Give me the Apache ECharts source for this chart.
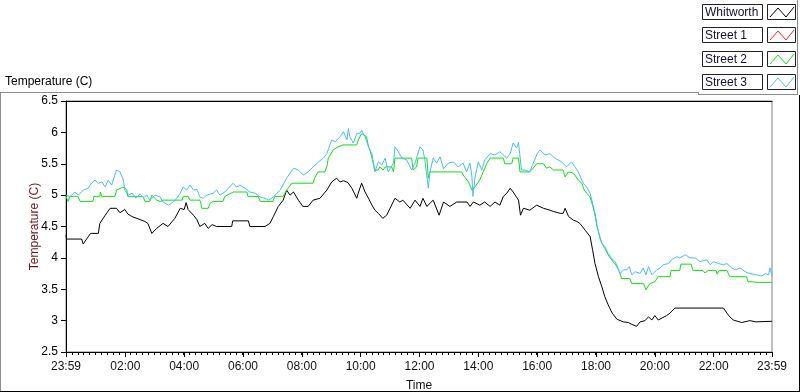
<!DOCTYPE html>
<html>
<head>
<meta charset="utf-8">
<script src="https://cdn.jsdelivr.net/npm/echarts@6/dist/echarts.min.js"></script>
<style>
html,body{margin:0;padding:0;background:#fff;}
#chart{width:800px;height:392px;}
</style>
</head>
<body>
<div id="chart"></div>
<script>
// Time is expressed in minutes elapsed since 23:59 (start of the trace).
const seriesNames = ['Whitworth', 'Street 1', 'Street 2', 'Street 3'];
const seriesColors = ['#000000', '#ff2020', '#10e010', '#48bdf5'];

const xTickMinutes = [0, 121, 241, 361, 481, 601, 721, 841, 961, 1081, 1201, 1321, 1440];
const xTickLabels = ['23:59', '02:00', '04:00', '06:00', '08:00', '10:00', '12:00', '14:00', '16:00', '18:00', '20:00', '22:00', '23:59'];

const yMin = 2.5, yMax = 6.5, yStep = 0.5;

const whitworth = [[0,4.37],[1,4.30],[32,4.30],[35,4.22],[42,4.30],[50,4.39],[66,4.39],[69,4.55],[80,4.68],[90,4.79],[103,4.79],[110,4.72],[120,4.77],[126,4.70],[134,4.66],[151,4.61],[161,4.58],[167,4.55],[175,4.39],[185,4.47],[198,4.55],[208,4.50],[222,4.63],[233,4.79],[241,4.77],[245,4.88],[249,4.77],[260,4.68],[267,4.61],[273,4.50],[283,4.55],[290,4.47],[298,4.53],[307,4.50],[338,4.50],[340,4.59],[372,4.59],[375,4.50],[406,4.50],[416,4.55],[423,4.66],[433,4.82],[443,4.92],[450,5.08],[457,5.00],[464,5.05],[474,4.92],[483,4.82],[494,4.82],[504,4.92],[518,4.95],[532,5.08],[542,5.21],[552,5.27],[559,5.21],[566,5.23],[569,5.24],[575,5.20],[579,5.19],[583,5.11],[586,5.08],[593,4.95],[596,5.03],[603,5.19],[610,5.05],[617,4.95],[624,4.84],[630,4.76],[637,4.71],[646,4.63],[654,4.68],[657,4.71],[671,4.95],[681,4.89],[687,4.92],[702,4.79],[712,4.92],[722,4.82],[728,4.95],[736,4.82],[749,4.92],[761,4.68],[770,4.89],[783,4.82],[797,4.89],[818,4.89],[824,4.82],[831,4.89],[844,4.84],[854,4.89],[865,4.82],[875,4.89],[885,4.84],[892,4.98],[899,5.03],[906,5.11],[912,5.05],[916,5.03],[923,4.92],[927,4.68],[933,4.79],[946,4.76],[960,4.84],[974,4.79],[987,4.76],[994,4.74],[1008,4.71],[1014,4.71],[1018,4.79],[1025,4.66],[1035,4.60],[1042,4.58],[1048,4.55],[1059,4.44],[1069,4.34],[1074,4.13],[1079,3.91],[1086,3.70],[1093,3.54],[1099,3.38],[1106,3.25],[1114,3.12],[1124,3.02],[1137,2.98],[1147,2.97],[1154,2.94],[1164,2.91],[1171,2.98],[1181,3.00],[1188,3.06],[1195,3.01],[1201,3.08],[1208,3.01],[1225,3.08],[1232,3.12],[1242,3.20],[1341,3.20],[1348,3.12],[1354,3.06],[1361,3.01],[1378,2.97],[1395,3.00],[1407,2.98],[1440,2.99]];

const street1 = []; // not visible in the reference (hidden / no data)

const street2 = [[0,4.98],[4,4.90],[8,4.98],[24,4.98],[29,4.90],[55,4.90],[57,4.98],[69,4.98],[70,5.05],[73,4.98],[100,4.98],[103,5.08],[114,5.12],[120,5.12],[124,5.08],[126,4.98],[157,4.98],[161,4.90],[171,4.90],[175,5.00],[185,4.92],[192,4.90],[198,4.92],[237,4.92],[239,4.98],[249,4.98],[253,4.92],[273,4.92],[275,4.87],[277,4.79],[290,4.79],[294,4.87],[300,4.90],[320,4.90],[324,4.98],[328,5.00],[341,5.05],[369,5.05],[371,4.98],[392,4.98],[396,4.90],[422,4.90],[426,4.98],[443,4.98],[450,5.08],[461,5.19],[504,5.19],[507,5.27],[514,5.37],[528,5.37],[532,5.45],[535,5.59],[545,5.72],[555,5.77],[565,5.80],[593,5.80],[596,5.88],[603,5.98],[606,5.98],[613,5.93],[617,5.77],[620,5.72],[626,5.53],[630,5.40],[637,5.40],[640,5.45],[647,5.40],[651,5.45],[664,5.45],[668,5.37],[671,5.59],[705,5.59],[708,5.40],[715,5.45],[718,5.59],[736,5.59],[739,5.27],[742,5.37],[807,5.37],[810,5.32],[821,5.21],[828,5.08],[834,5.13],[844,5.24],[851,5.37],[858,5.50],[865,5.59],[892,5.59],[895,5.50],[909,5.50],[912,5.59],[923,5.59],[926,5.37],[946,5.37],[953,5.43],[960,5.50],[974,5.50],[980,5.43],[987,5.45],[994,5.40],[1014,5.40],[1018,5.29],[1025,5.37],[1035,5.35],[1045,5.24],[1052,5.19],[1057,5.08],[1062,5.03],[1069,4.97],[1074,4.84],[1079,4.68],[1083,4.52],[1088,4.34],[1093,4.23],[1099,4.15],[1108,4.02],[1116,3.94],[1122,3.88],[1129,3.78],[1133,3.67],[1150,3.67],[1154,3.59],[1178,3.59],[1183,3.49],[1186,3.49],[1191,3.59],[1201,3.62],[1208,3.70],[1232,3.70],[1234,3.80],[1252,3.80],[1254,3.90],[1275,3.90],[1279,3.80],[1299,3.80],[1303,3.76],[1310,3.80],[1326,3.80],[1328,3.74],[1332,3.80],[1348,3.80],[1354,3.70],[1388,3.70],[1391,3.62],[1401,3.62],[1409,3.61],[1440,3.61]];

const street3 = [[0,5.00],[1,5.03],[8,4.97],[18,5.05],[25,5.00],[35,5.08],[45,5.11],[52,5.19],[56,5.21],[59,5.24],[66,5.19],[73,5.21],[80,5.13],[86,5.24],[93,5.16],[103,5.40],[110,5.37],[117,5.24],[120,5.08],[127,5.00],[135,5.03],[143,4.95],[151,5.02],[158,4.96],[165,5.00],[171,4.92],[182,5.00],[192,4.97],[198,4.89],[209,4.84],[219,4.89],[226,4.95],[233,5.03],[239,5.13],[246,5.08],[253,5.16],[260,5.08],[267,5.09],[273,4.97],[280,4.95],[287,5.00],[300,5.03],[307,5.08],[314,5.00],[324,5.05],[331,5.11],[341,5.19],[348,5.13],[355,5.16],[365,5.11],[375,5.05],[386,5.03],[396,4.97],[406,4.95],[413,4.92],[423,4.97],[430,5.03],[437,5.08],[450,5.27],[464,5.43],[474,5.40],[484,5.32],[494,5.37],[504,5.45],[515,5.53],[525,5.59],[532,5.66],[542,5.88],[549,5.85],[559,5.93],[566,6.01],[573,5.88],[576,6.06],[579,5.93],[586,5.83],[593,5.98],[600,5.99],[603,6.03],[610,5.93],[617,5.77],[624,5.66],[630,5.37],[637,5.53],[644,5.48],[651,5.59],[657,5.37],[668,5.51],[671,5.77],[678,5.69],[685,5.59],[695,5.56],[705,5.40],[712,5.51],[722,5.77],[728,5.72],[732,5.56],[739,5.11],[742,5.35],[749,5.59],[756,5.51],[763,5.61],[770,5.42],[780,5.51],[790,5.53],[800,5.45],[810,5.51],[817,5.37],[824,5.51],[828,5.29],[830,4.98],[834,5.27],[841,5.53],[848,5.40],[854,5.56],[865,5.66],[875,5.64],[885,5.69],[899,5.59],[906,5.66],[912,5.83],[919,5.75],[923,5.84],[929,5.40],[936,5.40],[946,5.37],[953,5.51],[961,5.66],[967,5.72],[977,5.64],[987,5.66],[997,5.59],[1011,5.53],[1021,5.45],[1031,5.53],[1038,5.45],[1045,5.37],[1052,5.24],[1055,5.19],[1062,5.13],[1069,5.03],[1074,4.87],[1079,4.71],[1083,4.50],[1089,4.34],[1093,4.23],[1099,4.18],[1106,4.07],[1113,3.99],[1120,3.94],[1123,3.89],[1130,3.75],[1137,3.81],[1144,3.81],[1149,3.86],[1154,3.73],[1161,3.78],[1171,3.75],[1177,3.84],[1183,3.73],[1188,3.86],[1195,3.73],[1205,3.81],[1212,3.84],[1218,3.89],[1229,3.91],[1235,3.97],[1246,4.02],[1252,4.00],[1263,4.05],[1273,4.00],[1283,4.00],[1293,3.94],[1307,3.97],[1314,3.89],[1320,3.94],[1331,3.91],[1341,3.89],[1348,3.91],[1358,3.84],[1365,3.81],[1375,3.84],[1385,3.78],[1395,3.75],[1409,3.73],[1419,3.71],[1426,3.75],[1433,3.73],[1436,3.84],[1440,3.71]];

const seriesData = [whitworth, street1, street2, street3];

const FONT = '"Liberation Sans", Arial, sans-serif';
const chart = echarts.init(document.getElementById('chart'), null, {renderer: 'canvas'});

// custom LabVIEW-style legend + panel frame
const gray = '#8c8c8c';
const graphics = [
  {type:'line', shape:{x1:0, y1:92.5, x2:698, y2:92.5}, style:{stroke:gray, lineWidth:1}},
  {type:'line', shape:{x1:698.5, y1:92, x2:698.5, y2:94.5}, style:{stroke:gray, lineWidth:1}},
  {type:'line', shape:{x1:698, y1:94.5, x2:797.5, y2:94.5}, style:{stroke:gray, lineWidth:1}},
  {type:'line', shape:{x1:797.5, y1:0, x2:797.5, y2:95}, style:{stroke:gray, lineWidth:1}},
  {type:'line', shape:{x1:0.5, y1:92, x2:0.5, y2:391}, style:{stroke:gray, lineWidth:1}},
  {type:'line', shape:{x1:0, y1:391.5, x2:800, y2:391.5}, style:{stroke:'#000', lineWidth:1}},
  {type:'line', shape:{x1:799.5, y1:95, x2:799.5, y2:392}, style:{stroke:'#000', lineWidth:1}},
  {type:'text', left:5, top:76, style:{text:'Temperature (C)', font:'12px ' + FONT, fill:'#000'}}
];
const rowTops = [4, 27, 51, 74];
seriesNames.forEach((name, i) => {
  const y = rowTops[i];
  graphics.push({type:'rect', shape:{x:702.5, y:y + 0.5, width:60, height:15}, style:{fill:'#fff', stroke:'#222', lineWidth:1}});
  graphics.push({type:'text', x:705, y:y + 8.5, style:{text:name, font:'12px ' + FONT, fill:'#101030', verticalAlign:'middle'}});
  graphics.push({type:'rect', shape:{x:767.5, y:y + 0.5, width:28, height:15}, style:{fill:'#fff', stroke:'#222', lineWidth:1}});
  graphics.push({type:'polyline', shape:{points:[[770, y + 13], [778, y + 4], [786, y + 13], [794, y + 3]]}, style:{stroke:seriesColors[i], lineWidth:1, fill:null}});
});

const option = {
  animation: false,
  backgroundColor: '#fff',
  textStyle: {fontFamily: FONT},
  grid: {left: 66, right: 28, top: 101, bottom: 40, show: true, borderColor: '#808080', borderWidth: 1, backgroundColor: '#fff', outerBoundsMode: 'none'},
  xAxis: [
    {
      type: 'value', min: 0, max: 1440, position: 'bottom',
      name: 'Time', nameLocation: 'middle', nameGap: 28, nameMoveOverlap: false,
      nameTextStyle: {color: '#111', fontSize: 12, fontFamily: FONT},
      axisLine: {show: true, lineStyle: {color: '#000', width: 1}},
      axisTick: {show: true, length: 5, lineStyle: {color: '#000'}, customValues: xTickMinutes},
      axisLabel: {show: true, color: '#101010', fontSize: 12, fontFamily: FONT, margin: 9,
        customValues: xTickMinutes,
        formatter: v => xTickLabels[xTickMinutes.indexOf(v)] || ''},
      splitLine: {show: false}
    },
    {
      type: 'value', min: 0, max: 1440, interval: 12, position: 'bottom',
      axisLine: {show: false},
      axisTick: {show: true, length: 3, lineStyle: {color: '#000'}},
      axisLabel: {show: false}, splitLine: {show: false}
    },
    {
      type: 'value', min: 0, max: 1440, position: 'top',
      axisLine: {show: true, lineStyle: {color: '#000', width: 1}},
      axisTick: {show: false}, axisLabel: {show: false}, splitLine: {show: false}
    }
  ],
  yAxis: {
    type: 'value', min: yMin, max: yMax, interval: yStep,
    name: 'Temperature (C)', nameLocation: 'middle', nameGap: 25, nameRotate: 90, nameMoveOverlap: false,
    nameTextStyle: {color: '#6e1414', fontSize: 12, fontFamily: FONT},
    axisLine: {show: true, lineStyle: {color: '#000', width: 1}},
    axisTick: {show: true, length: 5, lineStyle: {color: '#000'}},
    axisLabel: {color: '#000', fontSize: 12, fontFamily: FONT, margin: 8},
    splitLine: {show: false}
  },
  graphic: graphics,
  series: seriesNames.map((name, i) => ({
    name: name, type: 'line', xAxisIndex: 0,
    data: seriesData[i], showSymbol: false, symbol: 'none',
    lineStyle: {color: seriesColors[i], width: 1},
    itemStyle: {color: seriesColors[i]},
    emphasis: {disabled: true}
  }))
};
chart.setOption(option);
</script>
</body>
</html>
